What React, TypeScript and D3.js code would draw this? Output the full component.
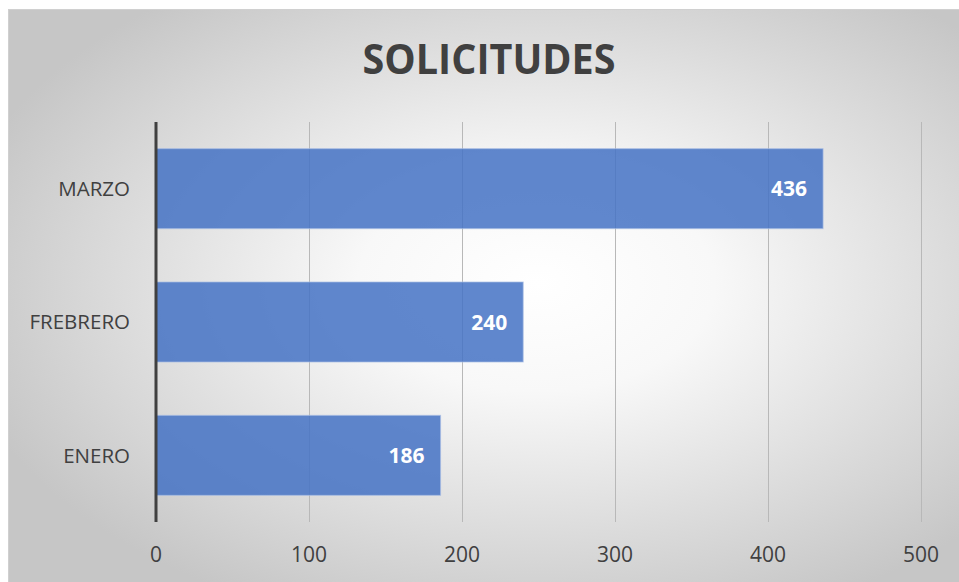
import React from "react";
import * as d3 from "d3";

const categories = ["MARZO", "FREBRERO", "ENERO"];
const values = [436, 240, 186];
const xTicks = [0, 100, 200, 300, 400, 500];
const title = "SOLICITUDES";

const W = 959;
const H = 582;
const plot = { left: 156, right: 921, top: 122, bottom: 522 };
const FONT = "'Open Sans', 'Liberation Sans', sans-serif";

export default function App() {
  const x = d3.scaleLinear().domain([0, 500]).range([plot.left, plot.right]);
  const y = d3
    .scaleBand<string>()
    .domain(categories)
    .range([plot.top, plot.bottom])
    .paddingInner(0.4)
    .paddingOuter(0.2);

  return (
    <svg
      width={W}
      height={H}
      style={{ position: "absolute", left: 0, top: 0, display: "block" }}
    >
      <defs>
        <radialGradient id="bg" cx="0.55" cy="0.47" r="0.62">
          <stop offset="0" stopColor="#FFFFFF" />
          <stop offset="0.3" stopColor="#F8F8F8" />
          <stop offset="1" stopColor="#C6C6C6" />
        </radialGradient>
      </defs>
      <rect x={0} y={0} width={W} height={H} fill="#FFFFFF" />
      <rect
        x={8.5}
        y={9.5}
        width={960}
        height={582}
        fill="url(#bg)"
        stroke="#D0D0D0"
        strokeWidth={1}
      />
      <text
        x={489}
        y={74}
        textAnchor="middle"
        fontFamily={FONT}
        fontWeight={700}
        fontSize={42}
        fill="#404040"
        textLength={253}
        lengthAdjust="spacingAndGlyphs"
      >
        {title}
      </text>
      {xTicks.slice(1).map((t) => (
        <line
          key={"g" + t}
          x1={x(t) + 0.5}
          x2={x(t) + 0.5}
          y1={plot.top}
          y2={plot.bottom}
          stroke="#B8B8B8"
          strokeWidth={1}
        />
      ))}
      {categories.map((c, i) => (
        <g key={c}>
          <rect
            x={x(0)}
            y={y(c)!}
            width={x(values[i]) - x(0)}
            height={y.bandwidth()}
            fill="#4472C4"
            fillOpacity={0.85}
            stroke="#A9BEE4"
            strokeOpacity={0.7}
            strokeWidth={1}
          />
          <text
            x={x(values[i]) - 16}
            y={y(c)! + y.bandwidth() / 2}
            dy="0.36em"
            textAnchor="end"
            fontFamily={FONT}
            fontWeight={700}
            fontSize={21}
            fill="#FFFFFF"
          >
            {values[i]}
          </text>
          <text
            x={130}
            y={y(c)! + y.bandwidth() / 2}
            dy="0.36em"
            textAnchor="end"
            fontFamily={FONT}
            fontSize={20.5}
            fill="#404040"
          >
            {c}
          </text>
        </g>
      ))}
      <line
        x1={x(0)}
        x2={x(0)}
        y1={plot.top}
        y2={plot.bottom}
        stroke="#404040"
        strokeWidth={3}
      />
      {xTicks.map((t) => (
        <text
          key={"t" + t}
          x={x(t)}
          y={554}
          dy="0.36em"
          textAnchor="middle"
          fontFamily={FONT}
          fontSize={21}
          fill="#404040"
        >
          {t}
        </text>
      ))}
    </svg>
  );
}
